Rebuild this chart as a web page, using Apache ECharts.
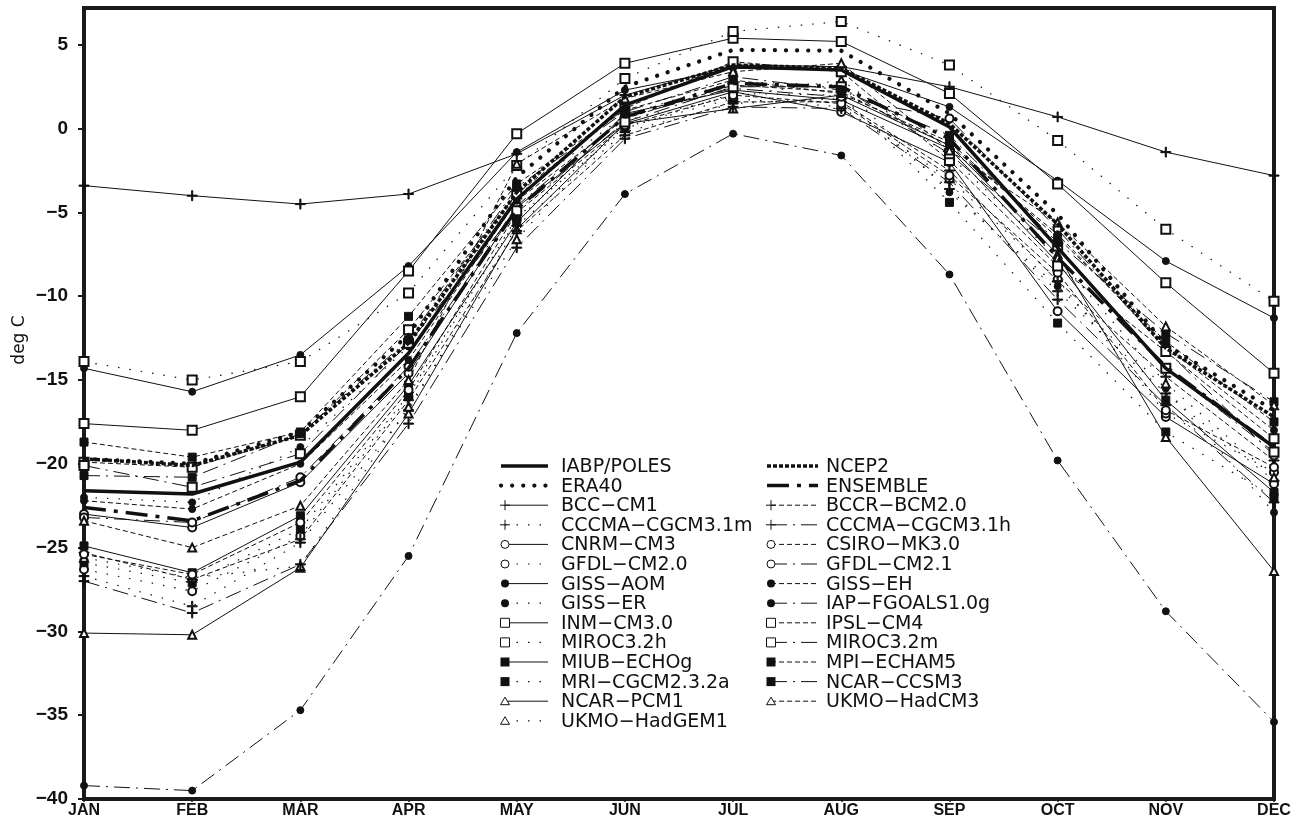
<!DOCTYPE html>
<html><head><meta charset="utf-8">
<script src="https://cdn.jsdelivr.net/npm/echarts@6/dist/echarts.min.js"></script>
<style>html,body{margin:0;padding:0;background:#fff}#c{width:1299px;height:833px}</style>
</head><body><div id="c"></div>
<script>
// ---------- data ----------
const months = ['JAN','FEB','MAR','APR','MAY','JUN','JUL','AUG','SEP','OCT','NOV','DEC'];
const yTicks = [-40,-35,-30,-25,-20,-15,-10,-5,0,5];

const IABP_POLES   = [-21.6,-21.8,-19.9,-13.4,-4.2,1.4,3.7,3.5,0.1,-7.1,-14.3,-19.0];
const ERA40        = [-19.7,-20.0,-18.1,-12.3,-2.9,2.5,4.7,4.65,0.9,-5.1,-12.9,-16.8];
const NCEP2        = [-19.7,-20.1,-18.3,-12.8,-3.8,1.9,3.8,3.6,0.3,-5.7,-13.1,-17.2];
const ENSEMBLE     = [-22.6,-23.4,-21.0,-14.3,-4.8,0.7,2.7,2.5,-0.6,-7.7,-14.2,-19.0];
const BCC_CM1      = [-3.4,-4.0,-4.5,-3.9,-1.5,2.0,3.8,3.7,2.5,0.7,-1.4,-2.8];
const CCCMA_CGCM31m= [-26.7,-28.5,-24.7,-16.8,-5.8,-0.2,1.5,1.8,-3.6,-9.7,-15.8,-21.0];
const CNRM_CM3     = [-23.0,-23.8,-21.1,-14.6,-4.7,0.3,2.2,1.0,-2.0,-10.9,-17.2,-21.2];
const GFDL_CM20    = [-26.3,-27.6,-24.3,-16.0,-5.4,0.1,1.8,1.3,-3.0,-9.0,-17.0,-20.5];
const GISS_AOM     = [-14.3,-15.7,-13.5,-8.2,-1.4,2.3,3.6,3.5,1.3,-3.1,-7.9,-11.3];
const GISS_ER      = [-22.0,-22.3,-19.0,-13.0,-4.0,0.8,2.8,2.6,-3.8,-9.4,-15.5,-22.9];
const INM_CM30     = [-17.6,-18.0,-16.0,-8.5,-0.3,3.9,5.4,5.2,2.1,-3.3,-9.2,-14.6];
const MIROC32h     = [-13.9,-15.0,-13.9,-9.8,-2.2,3.0,5.8,6.4,3.8,-0.7,-6.0,-10.3];
const MIUB_ECHOg   = [-24.9,-26.5,-23.1,-15.3,-5.6,0.9,2.3,1.7,-1.2,-8.0,-16.2,-21.7];
const MRI_CGCM232a = [-25.9,-27.1,-23.9,-15.9,-5.3,0.0,2.1,2.0,-4.4,-11.6,-18.1,-22.0];
const NCAR_PCM1    = [-30.1,-30.2,-26.2,-17.0,-6.0,0.3,1.2,2.0,-1.0,-7.5,-18.4,-26.4];
const UKMO_HadGEM1 = [-25.6,-26.8,-26.1,-16.6,-6.6,0.5,1.9,2.9,-1.6,-7.7,-15.2,-20.8];
const BCCR_BCM20   = [-25.3,-26.9,-24.5,-16.2,-6.1,-0.4,1.6,1.6,-2.5,-9.1,-14.8,-19.8];
const CCCMA_CGCM31h= [-27.0,-28.9,-26.0,-17.6,-7.1,-0.6,1.3,1.2,-3.2,-10.2,-16.5,-22.3];
const CSIRO_MK30   = [-25.4,-26.6,-23.5,-15.6,-5.0,0.2,2.0,1.5,-2.8,-8.6,-16.8,-20.2];
const GFDL_CM21    = [-23.2,-23.5,-20.8,-14.2,-4.6,0.7,2.4,1.9,0.6,-6.0,-13.2,-19.5];
const GISS_EH      = [-22.2,-22.7,-20.0,-13.8,-4.3,0.6,2.6,2.2,-1.0,-6.3,-13.0,-18.0];
const IAP_FGOALS   = [-39.2,-39.5,-34.7,-25.5,-12.2,-3.9,-0.3,-1.6,-8.7,-19.8,-28.8,-35.4];
const IPSL_CM4     = [-19.9,-20.2,-18.3,-12.0,-3.9,1.2,4.0,3.4,-1.9,-8.2,-13.3,-18.5];
const MIROC32m     = [-20.1,-21.4,-19.4,-12.8,-4.9,0.4,2.5,2.5,-1.5,-7.0,-14.3,-19.3];
const MPI_ECHAM5   = [-18.7,-19.6,-18.1,-11.2,-3.3,1.1,2.9,2.1,-0.8,-6.5,-12.7,-17.5];
const NCAR_CCSM3   = [-20.7,-20.8,-18.2,-12.6,-3.5,1.0,3.1,2.3,-0.4,-6.8,-12.2,-16.3];
const UKMO_HadCM3  = [-23.4,-25.0,-22.5,-15.0,-2.1,1.8,3.4,3.9,-1.3,-5.6,-11.8,-16.5];

// series specs: name, data, symbol kind, line kind
const leftCol = [
  ['IABP/POLES', IABP_POLES, 'none', 'thickSolid'],
  ['ERA40', ERA40, 'none', 'thickDot'],
  ['BCC-CM1', BCC_CM1, 'plus', 'solid'],
  ['CCCMA-CGCM3.1m', CCCMA_CGCM31m, 'plus', 'dotted'],
  ['CNRM-CM3', CNRM_CM3, 'ocircle', 'solid'],
  ['GFDL-CM2.0', GFDL_CM20, 'ocircle', 'dotted'],
  ['GISS-AOM', GISS_AOM, 'fcircle', 'solid'],
  ['GISS-ER', GISS_ER, 'fcircle', 'dotted'],
  ['INM-CM3.0', INM_CM30, 'osquare', 'solid'],
  ['MIROC3.2h', MIROC32h, 'osquare', 'dotted'],
  ['MIUB-ECHOg', MIUB_ECHOg, 'fsquare', 'solid'],
  ['MRI-CGCM2.3.2a', MRI_CGCM232a, 'fsquare', 'dotted'],
  ['NCAR-PCM1', NCAR_PCM1, 'otri', 'solid'],
  ['UKMO-HadGEM1', UKMO_HadGEM1, 'otri', 'dotted']
];
const rightCol = [
  ['NCEP2', NCEP2, 'none', 'thickDash'],
  ['ENSEMBLE', ENSEMBLE, 'none', 'thickDashDot'],
  ['BCCR-BCM2.0', BCCR_BCM20, 'plus', 'dashed'],
  ['CCCMA-CGCM3.1h', CCCMA_CGCM31h, 'plus', 'dashdot'],
  ['CSIRO-MK3.0', CSIRO_MK30, 'ocircle', 'dashed'],
  ['GFDL-CM2.1', GFDL_CM21, 'ocircle', 'dashdot'],
  ['GISS-EH', GISS_EH, 'fcircle', 'dashed'],
  ['IAP-FGOALS1.0g', IAP_FGOALS, 'fcircle', 'dashdot'],
  ['IPSL-CM4', IPSL_CM4, 'osquare', 'dashed'],
  ['MIROC3.2m', MIROC32m, 'osquare', 'dashdot'],
  ['MPI-ECHAM5', MPI_ECHAM5, 'fsquare', 'dashed'],
  ['NCAR-CCSM3', NCAR_CCSM3, 'fsquare', 'dashdot'],
  ['UKMO-HadCM3', UKMO_HadCM3, 'otri', 'dashed']
];

// ---------- styles ----------
const INK = '#111';
const LINES = {
  solid:       {width:1, type:'solid'},
  dotted:      {width:1.2, type:[1.5,10]},
  dashed:      {width:1, type:[5,3]},
  dashdot:     {width:1, type:[16,6,2,6]},
  thickSolid:  {width:3.5, type:'solid'},
  thickDot:    {width:4.2, type:[0.1,11], cap:'round'},
  thickDash:   {width:3.5, type:[4,2]},
  thickDashDot:{width:3.5, type:[22,8,4,8]}
};
const PLUS = 'path://M4.45,0H5.55V4.45H10V5.55H5.55V10H4.45V5.55H0V4.45H4.45Z';
const SYMS = {
  none:   {symbol:'none', size:0},
  plus:   {symbol:PLUS, size:10},
  ocircle:{symbol:'emptyCircle', size:8},
  fcircle:{symbol:'circle', size:7},
  osquare:{symbol:'emptyRect', size:9},
  fsquare:{symbol:'rect', size:8},
  otri:   {symbol:'emptyTriangle', size:8}
};

const all = leftCol.concat(rightCol);
const series = all.map(function(s){
  const L = LINES[s[3]], S = SYMS[s[2]];
  const thick = s[3].indexOf('thick') === 0;
  return {
    type:'line', name:s[0], data:s[1],
    symbol:S.symbol, symbolSize:S.size, showSymbol:s[2] !== 'none',
    z: thick ? 5 : 3,
    lineStyle:{color:INK, width:L.width, type:L.type, cap:L.cap || 'butt'},
    itemStyle:{color:INK, borderColor:INK, borderWidth:1},
    emphasis:{disabled:true}, silent:true
  };
});

// ---------- legend drawn as graphic ----------
const graphics = [];
function dispName(n){ return n.replace(/-/g, '\u2212'); }
function addSym(kind, cx, cy){
  const st = {stroke:INK, lineWidth:1};
  if (kind === 'plus') {
    graphics.push({type:'line', shape:{x1:cx-5,y1:cy,x2:cx+5,y2:cy}, style:st, z:10});
    graphics.push({type:'line', shape:{x1:cx,y1:cy-5,x2:cx,y2:cy+5}, style:st, z:10});
  } else if (kind === 'ocircle') {
    graphics.push({type:'circle', shape:{cx:cx,cy:cy,r:4}, style:{fill:'#fff',stroke:INK,lineWidth:1}, z:10});
  } else if (kind === 'fcircle') {
    graphics.push({type:'circle', shape:{cx:cx,cy:cy,r:4}, style:{fill:INK}, z:10});
  } else if (kind === 'osquare') {
    graphics.push({type:'rect', shape:{x:cx-4.5,y:cy-4.5,width:9,height:9}, style:{fill:'#fff',stroke:INK,lineWidth:1}, z:10});
  } else if (kind === 'fsquare') {
    graphics.push({type:'rect', shape:{x:cx-4.5,y:cy-4.5,width:9,height:9}, style:{fill:INK}, z:10});
  } else if (kind === 'otri') {
    graphics.push({type:'polygon', shape:{points:[[cx,cy-4],[cx+4.5,cy+3.5],[cx-4.5,cy+3.5]]}, style:{fill:'#fff',stroke:INK,lineWidth:1}, z:10});
  }
}
function addLegendCol(list, x0, x1, tx, y0, dy){
  list.forEach(function(s, i){
    const y = y0 + i*dy;
    const L = LINES[s[3]];
    const dash = Array.isArray(L.type) ? L.type : null;
    const startX = s[2] === 'none' ? x0 - 4 : x0;
    graphics.push({type:'line', shape:{x1:startX,y1:y,x2:x1,y2:y},
      style:{stroke:INK, lineWidth:L.width, lineDash:dash, lineCap:L.cap || 'butt'}, z:9});
    if (s[2] !== 'none') addSym(s[2], x0, y);
    graphics.push({type:'text', x:tx, y:y+1, z:10,
      style:{text:dispName(s[0]), fill:INK, font:'19px "DejaVu Sans"', textAlign:'left', textVerticalAlign:'middle'}});
  });
}
addLegendCol(leftCol, 505, 548, 561, 466, 19.6);
addLegendCol(rightCol, 771, 818, 826, 466, 19.6);
graphics.push({type:'text', x:20, y:340, rotation:Math.PI/2, z:10,
  style:{text:'deg C', fill:INK, font:'17px "DejaVu Sans"', textAlign:'center', textVerticalAlign:'middle'}});

// ---------- chart ----------
const chart = echarts.init(document.getElementById('c'), null, {renderer:'canvas'});
chart.setOption({
  animation:false,
  backgroundColor:'#fff',
  grid:{left:84, right:25, top:8, bottom:34, show:true, borderColor:'#1a1a1a', borderWidth:4},
  xAxis:{type:'category', data:months, boundaryGap:false,
    axisLine:{show:true, onZero:false, lineStyle:{color:'#1a1a1a', width:4}},
    axisTick:{show:true, alignWithLabel:true, length:3, lineStyle:{color:'#1a1a1a', width:1.5}},
    axisLabel:{color:INK, fontFamily:'Liberation Sans', fontWeight:'bold', fontSize:16, margin:4},
    splitLine:{show:false}},
  yAxis:{type:'value', min:yTicks[0], max:7.2, interval:5,
    axisLine:{show:true, lineStyle:{color:'#1a1a1a', width:4}},
    axisTick:{show:true, length:6, lineStyle:{color:'#1a1a1a', width:2}},
    axisLabel:{color:INK, fontFamily:'Liberation Sans', fontWeight:'bold', fontSize:19, margin:16,
      showMaxLabel:false,
      formatter:function(v){ return yTicks.indexOf(v) < 0 ? '' : (v < 0 ? '\u2212' + Math.abs(v) : String(v)); }},
    splitLine:{show:false}},
  series:series,
  graphic:graphics
});
</script></body></html>
